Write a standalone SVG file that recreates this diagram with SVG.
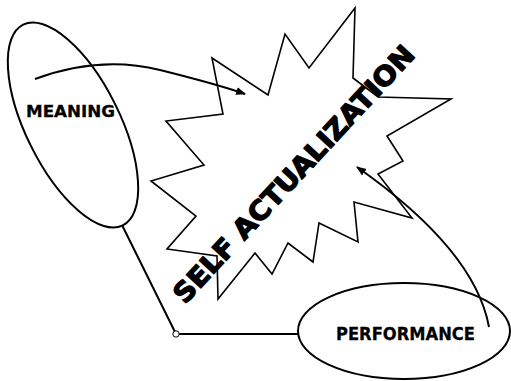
<svg xmlns="http://www.w3.org/2000/svg" width="511" height="381" viewBox="0 0 511 381">
<style>
.shape{fill:none;stroke:#000;stroke-width:2}
.star{fill:none;stroke:#000;stroke-width:1.6;stroke-linejoin:miter}
.conn{fill:none;stroke:#000;stroke-width:2}
.lbl{font-family:"DejaVu Sans","Liberation Sans",sans-serif;font-weight:bold;fill:#000;stroke:#000;stroke-width:0.3}
.big{font-family:"DejaVu Sans","Liberation Sans",sans-serif;font-weight:bold;fill:#000;stroke:#000;stroke-width:1.3;stroke-linejoin:round}
</style>
<defs>
<marker id="ah" viewBox="0 0 10 10" refX="9" refY="5" markerWidth="5" markerHeight="5" orient="auto" markerUnits="strokeWidth">
<path d="M0,1 L10,5 L0,9 z" fill="#000"/>
</marker>
</defs>
<rect width="511" height="381" fill="#fff"/>
<g id="self-actualization">
<polygon class="star" points="212,58 268,95 285,34 309,68 355,8 353,78 378,97 451,99 387,136 403,161 378,174 412,218 354,202 358,242 319,223 313,262 288,243 272,274 255,253 218,299 217,256 167,249 196,216 151,181 204,165 166,121 223,114"/>
<text class="big" font-size="27" transform="translate(185,305) rotate(-47.1)" x="0" y="0" textLength="340" lengthAdjust="spacingAndGlyphs">SELF ACTUALIZATION</text>
</g>
<g id="meaning">
<ellipse class="shape" cx="73" cy="125" rx="112" ry="47" transform="rotate(63.6 73 125)"/>
<text class="lbl" font-size="16.5" x="26" y="117" textLength="89" lengthAdjust="spacingAndGlyphs">MEANING</text>
</g>
<g id="performance">
<ellipse class="shape" cx="404" cy="331" rx="106" ry="48"/>
<text class="lbl" font-size="17.5" x="336" y="340" textLength="139" lengthAdjust="spacingAndGlyphs">PERFORMANCE</text>
</g>
<g id="connectors">
<path class="conn" d="M35,79 Q100,55 160,70 T245,94" marker-end="url(#ah)"/>
<path class="conn" d="M489,327 Q475,250 357,167" marker-end="url(#ah)"/>
<polyline class="conn" points="122,225 176,334 298,334"/>
<circle cx="176" cy="334" r="3.2" fill="#fff" stroke="#000" stroke-width="1"/>
</g>
</svg>
